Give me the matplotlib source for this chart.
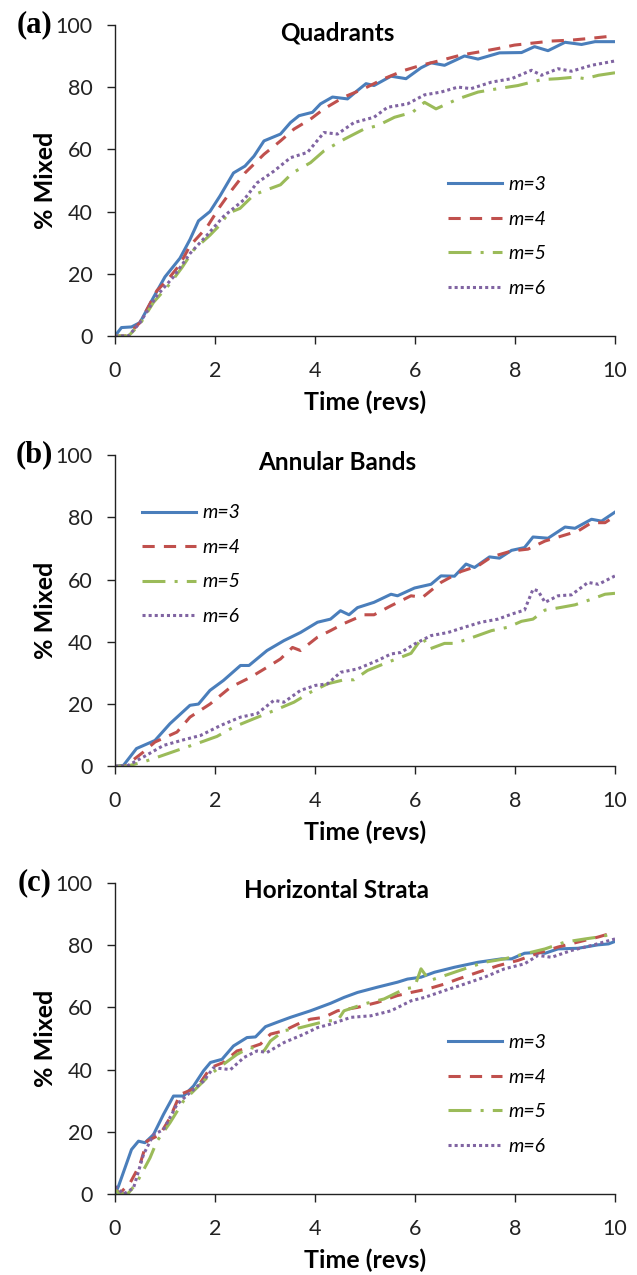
import matplotlib
matplotlib.use('Agg')
import matplotlib.pyplot as plt

# Panel (a) Quadrants
qa_x3 = [0, 0.13, 0.33, 0.5, 0.77, 1.0, 1.3, 1.5, 1.67, 1.9, 2.1, 2.37, 2.6, 2.78, 2.98, 3.31, 3.51, 3.68, 3.95,
         4.11, 4.35, 4.65, 4.85, 5.02, 5.18, 5.52, 5.82, 6.12, 6.32, 6.59, 6.99, 7.26, 7.69, 8.13, 8.39, 8.66,
         9.0, 9.33, 9.6, 10]
qa_y3 = [0, 2.7, 2.9, 4.3, 12.4, 19, 25, 31, 37, 40, 45, 52.4, 54.6, 57.8, 62.7, 64.9, 68.6, 70.8, 71.9,
         74.6, 76.8, 76.2, 78.9, 81.1, 80.5, 83.5, 82.7, 86.2, 87.8, 87.0, 90.0, 89.0, 91.0, 91.1, 93.0, 91.7,
         94.4, 93.7, 94.6, 94.6]
qa_x4 = [0, 0.23, 0.5, 0.84, 1.04, 1.3, 1.5, 1.84, 2.1, 2.34, 2.6, 2.98, 3.31, 3.58, 3.91, 4.18, 4.58, 4.98,
         5.38, 5.79, 6.12, 6.52, 6.92, 7.32, 7.66, 7.99, 8.33, 8.73, 9.13, 9.53, 10]
qa_y4 = [0, 0, 4.3, 14.6, 17.8, 23, 29, 35, 41.6, 47, 52.4, 58.4, 62.7, 66.5, 69.7, 73, 76.8, 79.5,
         82.7, 85.4, 87, 88.6, 90.3, 91.4, 92.4, 93.5, 94.1, 94.8, 95.1, 95.7, 96.5]
qa_x5 = [0, 0.27, 0.5, 0.77, 1.1, 1.34, 1.57, 1.9, 2.1, 2.27, 2.5, 2.78, 3.04, 3.31, 3.55, 3.91, 4.18, 4.58,
         4.98, 5.25, 5.59, 5.95, 6.19, 6.42, 6.86, 7.26, 7.66, 8.06, 8.53, 8.86, 9.2, 9.4, 9.67, 10]
qa_y5 = [0, 0, 3.8, 10.8, 16.8, 22, 27.6, 32.4, 35.7, 39.5, 41, 45.4, 47, 48.6, 52.4, 55.7, 59.5, 63.2,
         66.5, 67.6, 70.3, 71.9, 75.1, 73, 76.2, 78.4, 79.5, 80.5, 82.4, 82.7, 83.2, 82.7, 83.8, 84.6]
qa_x6 = [0, 0.27, 0.5, 0.84, 1.17, 1.5, 1.84, 2.17, 2.58, 2.84, 3.18, 3.51, 3.85, 4.18, 4.45, 4.78, 5.18,
         5.45, 5.85, 6.19, 6.52, 6.86, 7.12, 7.53, 7.93, 8.33, 8.53, 8.86, 9.13, 9.53, 10]
qa_y6 = [0, 0, 4.3, 13, 19, 26.5, 32.4, 38.4, 43.8, 49.2, 53, 57.3, 59, 65.4, 64.9, 68.6, 70.3,
         73.5, 74.6, 77.5, 78.4, 80, 79.5, 81.6, 82.7, 85.4, 83.8, 85.9, 85.1, 87, 88.4]

# Panel (b) Annular Bands
ab_x3 = [0, 0.17, 0.43, 0.8, 1.1, 1.5, 1.67, 1.9, 2.17, 2.51, 2.68, 3.04, 3.38, 3.71, 4.05, 4.31, 4.51, 4.68,
         4.85, 5.18, 5.52, 5.65, 5.99, 6.32, 6.52, 6.79, 7.02, 7.19, 7.49, 7.69, 7.93, 8.19, 8.36, 8.66, 9.0,
         9.2, 9.53, 9.73, 10]
ab_y3 = [0, 0.3, 5.7, 8.3, 13.7, 19.6, 20, 24.4, 27.6, 32.4, 32.4, 37.2, 40.4, 43, 46.3, 47.3, 50, 48.7,
         51, 52.7, 55.3, 54.8, 57.3, 58.5, 61.2, 61.1, 65, 63.9, 67.3, 66.9, 69.4, 70.3, 73.7, 73.3, 76.9,
         76.5, 79.4, 78.8, 81.7]
ab_x4 = [0, 0.2, 0.57, 0.8, 1.24, 1.5, 1.9, 2.31, 2.71, 3.04, 3.31, 3.55, 3.71, 4.05, 4.31, 4.58, 4.98, 5.18,
         5.52, 5.92, 6.15, 6.52, 6.92, 7.26, 7.53, 7.93, 8.26, 8.6, 8.93, 9.26, 9.53, 9.8, 10]
ab_y4 = [0, 0, 4.6, 7.8, 11, 15.8, 20, 25.4, 28.6, 31.8, 34.5, 38.2, 37.2, 41.5, 43.6, 45.9, 48.7, 48.7,
         51.6, 54.8, 54.3, 59.1, 62.6, 64.4, 67.3, 69.2, 69.8, 72.4, 74, 75.6, 78.3, 78.3, 80.4]
ab_x5 = [0, 0.23, 0.57, 0.9, 1.24, 1.64, 2.04, 2.37, 2.78, 3.18, 3.58, 3.91, 4.25, 4.58, 4.78, 5.05, 5.45,
         5.92, 6.15, 6.29, 6.59, 6.79, 7.06, 7.53, 7.86, 8.13, 8.36, 8.6, 8.93, 9.2, 9.53, 9.8, 10]
ab_y5 = [0, 0, 1.4, 3.2, 5.1, 7.3, 9.6, 12.6, 15.3, 17.9, 20.6, 23.8, 26.5, 27.8, 27.8, 30.8, 33.4,
         36.3, 41.5, 37.7, 39.5, 39.5, 40.9, 43.6, 44.7, 46.6, 47.3, 50.2, 51.1, 51.9, 53.7, 55.3, 55.6]
ab_x6 = [0, 0.23, 0.57, 0.97, 1.37, 1.71, 2.11, 2.51, 2.84, 3.18, 3.38, 3.71, 4.01, 4.25, 4.51, 4.85, 5.25,
         5.52, 5.72, 5.99, 6.32, 6.66, 6.99, 7.32, 7.66, 7.93, 8.19, 8.36, 8.46, 8.6, 8.86, 9.13, 9.46, 9.67, 10]
ab_y6 = [0, 0, 3, 6.7, 8.5, 9.9, 13.1, 15.8, 16.9, 21.2, 20.6, 24.4, 26, 26.5, 30.2, 31.3, 34,
         36.1, 36.6, 39.3, 42, 43, 44.7, 46.3, 47.3, 48.9, 50.2, 56.9, 56.4, 52.7, 54.8, 55.1, 59.1, 58.5, 61.2]

# Panel (c) Horizontal Strata
hs_x3 = [0, 0.07, 0.2, 0.33, 0.47, 0.6, 0.77, 0.97, 1.17, 1.37, 1.57, 1.77, 1.91, 2.14, 2.37, 2.64, 2.81,
         3.01, 3.24, 3.51, 3.91, 4.31, 4.58, 4.85, 5.25, 5.65, 5.85, 6.12, 6.39, 6.79, 7.26, 7.73, 7.93, 8.19,
         8.46, 8.6, 8.86, 9.26, 9.66, 9.87, 10]
hs_y3 = [0, 2.5, 8.4, 14.3, 17, 16.5, 19.1, 25.6, 31.5, 31.5, 34.7, 39.6, 42.3, 43.3, 47.6, 50.3, 50.5,
         53.8, 55.2, 56.8, 58.9, 61.3, 63.2, 64.8, 66.5, 68.1, 69.1, 69.7, 71.3, 72.9, 74.5, 75.6, 75.6, 77.4,
         77.7, 77.4, 78.8, 79, 80.1, 80.4, 81.2]
hs_x4 = [0, 0.1, 0.3, 0.5, 0.64, 0.9, 1.1, 1.3, 1.64, 1.91, 2.17, 2.44, 2.71, 2.91, 3.11, 3.38, 3.65, 3.91,
         4.18, 4.45, 4.85, 5.25, 5.65, 5.92, 6.25, 6.59, 6.86, 7.26, 7.66, 8.06, 8.46, 8.86, 9.26, 9.66, 10]
hs_y4 = [1.4, 0.3, 3.5, 9.5, 17, 19.1, 24.5, 32, 34.2, 40.6, 42.3, 46, 47.1, 48.2, 51.4, 52.5, 54.6, 56.2,
         56.8, 58.9, 60, 61.6, 63.8, 64.8, 65.9, 67.5, 69.1, 71.3, 73.4, 75.1, 77.4, 79.4, 81, 82.6, 84.2]
hs_x5 = [0, 0.1, 0.27, 0.43, 0.7, 0.84, 1.1, 1.37, 1.64, 1.91, 2.17, 2.44, 2.71, 2.98, 3.11, 3.38, 3.71,
         3.98, 4.25, 4.45, 4.58, 4.98, 5.38, 5.79, 5.99, 6.12, 6.29, 6.59, 6.99, 7.39, 7.79, 8.19, 8.6, 9.0,
         9.4, 9.66, 10]
hs_y5 = [1.4, 0, 0.3, 3.5, 11.6, 17, 22.9, 29.9, 34.2, 38.5, 41.7, 44.9, 47.1, 46, 49.2, 52.5, 53.5,
         54.6, 55.7, 55.7, 58.9, 61.1, 62.7, 65.9, 66.5, 72.4, 68.6, 70.2, 72.4, 74.5, 75.6, 77.2, 78.8, 81,
         82, 82.6, 83.7]
hs_x6 = [0, 0.17, 0.37, 0.57, 0.77, 0.97, 1.24, 1.5, 1.77, 1.97, 2.31, 2.58, 2.84, 3.04, 3.38, 3.78, 4.05,
         4.31, 4.72, 5.12, 5.52, 5.92, 6.19, 6.59, 6.99, 7.39, 7.79, 8.19, 8.46, 8.73, 9.13, 9.53, 10]
hs_y6 = [2.5, 0, 1.9, 12.7, 19.1, 20.7, 28.8, 32.6, 36.3, 40.6, 40, 43.9, 46, 45.5, 48.7, 51.4, 53.5,
         54.6, 56.8, 57.3, 58.9, 62.1, 63.2, 65.4, 67.5, 69.7, 72.4, 74, 76.7, 76.1, 78.3, 79.9, 82]

labels = ['m=3', 'm=4', 'm=5', 'm=6']
colors = ['#4A7EBB', '#C0504D', '#9BBB59', '#8064A2']
dashes = ['-', (0, (4, 3)), (0, (7.5, 3, 1, 3)), (0, (1, 1))]

panels = [
    ('(a)', 'Quadrants', [(qa_x3, qa_y3), (qa_x4, qa_y4), (qa_x5, qa_y5), (qa_x6, qa_y6)], (0.666, 0.514)),
    ('(b)', 'Annular Bands', [(ab_x3, ab_y3), (ab_x4, ab_y4), (ab_x5, ab_y5), (ab_x6, ab_y6)], (0.054, 0.842)),
    ('(c)', 'Horizontal Strata', [(hs_x3, hs_y3), (hs_x4, hs_y4), (hs_x5, hs_y5), (hs_x6, hs_y6)], (0.666, 0.514)),
]

plt.rcParams['font.family'] = ['Lato', 'DejaVu Sans']

fig = plt.figure(figsize=(6.37, 12.75), dpi=100)
bottoms = [0.7365, 0.399, 0.0635]

for (tag, title, series, leg_pos), bottom in zip(panels, bottoms):
    ax = fig.add_axes([0.1805, bottom, 0.785, 0.244])
    for (xs, ys), lab, col, ls in zip(series, labels, colors, dashes):
        ax.plot(xs, ys, color=col, linestyle=ls, linewidth=2.2, label=lab)
    ax.set_xlim(0, 10)
    ax.set_ylim(0, 100)
    ax.set_xticks([0, 2, 4, 6, 8, 10])
    ax.set_yticks([0, 20, 40, 60, 80, 100])
    for s in ['top', 'right']:
        ax.spines[s].set_visible(False)
    for s in ['left', 'bottom']:
        ax.spines[s].set_linewidth(1.0)
        ax.spines[s].set_color('#222222')
    ax.tick_params(axis='both', direction='out', length=6, width=1.0, labelsize=15.5,
                   color='#222222', labelcolor='#222222')
    ax.tick_params(axis='x', pad=12)
    ax.tick_params(axis='y', pad=10)
    ax.set_xlabel('Time (revs)', fontsize=18, fontweight='bold')
    ax.set_ylabel('% Mixed', fontsize=18, fontweight='bold')
    ax.xaxis.set_label_coords(0.5, -0.175)
    ax.yaxis.set_label_coords(-0.115, 0.5)
    ax.text(0.444, 0.975, title, transform=ax.transAxes, ha='center', va='center',
            fontsize=17.5, fontweight='bold')
    leg = ax.legend(loc='upper left', bbox_to_anchor=leg_pos, frameon=False, borderpad=0,
                    borderaxespad=0, handlelength=2.8, handletextpad=0.3, labelspacing=0.9,
                    prop={'style': 'italic', 'size': 14})
    # panel tag
    fig_y = bottom + 0.244
    fig.text(0.054, fig_y, tag, ha='center', va='center', fontsize=22, fontweight='bold',
             family=['Liberation Serif', 'DejaVu Serif'])

fig.savefig('out.png', dpi=100, facecolor='white')
